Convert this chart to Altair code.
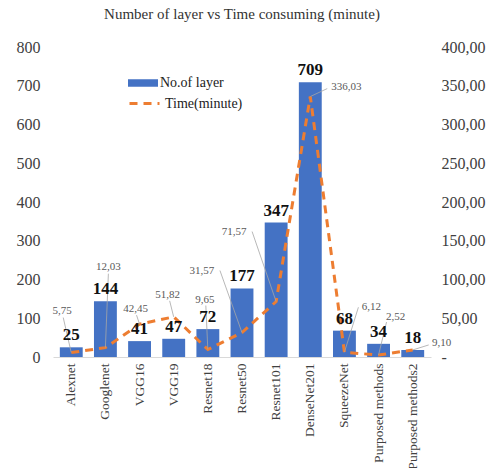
import altair as alt
import pandas as pd

models = ["Alexnet", "Googlenet", "VGG16", "VGG19", "Resnet18", "Resnet50",
          "Resnet101", "DenseNet201", "SqueezeNet", "Purposed methods", "Purposed methods2"]
layers = [25, 144, 41, 47, 72, 177, 347, 709, 68, 34, 18]
times = [5.75, 12.03, 42.45, 51.82, 9.65, 31.57, 71.57, 336.03, 6.12, 2.52, 9.10]

# annotation layout (pixel offsets of time labels and their leader lines)
label_dx = [-9, 3, -4, -6, -3, -40, -42, 36, 27, 17, 29]
label_dy = [-42, -81, -15, -22, -50, -62, -70, -10, -45, -38, -7]
lead_dx = [-8, 3, -3, -4, -2, -22, -24, 17, 14, 8, 16]
lead_dy = [-35, -74, -9, -16, -44, -62, -70, -8, -45, -33, -5]

FONT = "Liberation Serif"
BLUE = "#4472C4"
ORANGE = "#ED7D31"
PLOT_H = 310
HALF_BAND = 11.4
PX_TO_MIN = 400 / PLOT_H

df = pd.DataFrame({
    "model": models,
    "layers": layers,
    "time": times,
    "tlabel": [f"{t:.2f}".replace(".", ",") for t in times],
    "dx": label_dx,
    "dy": label_dy,
    "bar_series": ["No.of layer"] * len(models),
    "line_series": ["Time(minute)"] * len(models),
})

lead_rows = []
for i, m in enumerate(models):
    lead_rows.append({"model": m, "time": times[i], "ox": 0, "oy": 0, "k": i})
    lead_rows.append({"model": m, "time": times[i], "ox": lead_dx[i], "oy": lead_dy[i], "k": i})
lead_df = pd.DataFrame(lead_rows)

x_enc = alt.X("model:N", sort=models, title=None,
              scale=alt.Scale(paddingInner=0.33, paddingOuter=0.2),
              axis=alt.Axis(labelAngle=270, labelFont=FONT, labelFontSize=13.5,
                            labelColor="#404040", ticks=False, domainColor="#D9D9D9",
                            labelPadding=6, labelLimit=200))

y_left = alt.Y("layers:Q", title=None, scale=alt.Scale(domain=[0, 800]),
               axis=alt.Axis(values=list(range(0, 801, 100)), grid=False, ticks=False,
                             domain=False, labelFont=FONT, labelFontSize=16,
                             labelColor="#404040", labelPadding=13))

y_right_axis = alt.Axis(orient="right", values=list(range(0, 401, 50)), grid=False,
                        ticks=False, domain=False, labelFont=FONT, labelFontSize=16,
                        labelColor="#404040", labelPadding=10,
                        labelExpr="datum.value == 0 ? '-' : replace(format(datum.value, '.2f'), '.', ',')")
y_right = alt.Y("time:Q", title=None, scale=alt.Scale(domain=[0, 400]), axis=y_right_axis)
y_right_shift = alt.Y("ty:Q", title=None, scale=alt.Scale(domain=[0, 400]), axis=y_right_axis)

base = alt.Chart(df)

bars = base.mark_bar(color=BLUE).encode(
    x=x_enc, y=y_left,
    color=alt.Color("bar_series:N", scale=alt.Scale(range=[BLUE]),
                    legend=alt.Legend(title=None, orient="none", legendX=75, legendY=21,
                                      symbolType="M-1,-0.25H1V0.25H-1Z", symbolSize=900,
                                      symbolStrokeWidth=0, labelFont=FONT, labelFontSize=14,
                                      labelColor="#222", labelOffset=2)),
)

line = base.mark_line(strokeWidth=3, strokeDash=[8, 6]).encode(
    x=x_enc, y=y_right,
    color=alt.Color("line_series:N", scale=alt.Scale(range=[ORANGE]),
                    legend=alt.Legend(title=None, orient="none", legendX=75, legendY=40,
                                      symbolType="stroke", symbolSize=900,
                                      symbolStrokeWidth=3, symbolDash=[8, 6],
                                      labelFont=FONT, labelFontSize=14,
                                      labelColor="#222", labelOffset=4)),
)

leaders = alt.Chart(lead_df).transform_calculate(
    ty=f"datum.time - datum.oy * {PX_TO_MIN}",
    px=f"datum.ox + {HALF_BAND}",
).mark_line(color="#A6A6A6", strokeWidth=0.8).encode(
    x=x_enc, y=y_right_shift,
    xOffset=alt.XOffset("px:Q", scale=None),
    detail="k:N",
)

tlabels = base.transform_calculate(
    ty=f"datum.time - datum.dy * {PX_TO_MIN}",
    px=f"datum.dx + {HALF_BAND}",
).mark_text(font=FONT, fontSize=11, color="#595959").encode(
    x=x_enc, y=y_right_shift,
    xOffset=alt.XOffset("px:Q", scale=None),
    text="tlabel:N",
)

blabels = base.mark_text(font=FONT, fontSize=17, fontWeight="bold", color="#111",
                         baseline="bottom", dy=-3).encode(
    x=x_enc,
    y=alt.Y("layers:Q", scale=alt.Scale(domain=[0, 800]), axis=None),
    text="layers:Q",
)

chart = alt.layer(
    bars,
    alt.layer(line, leaders, tlabels),
    blabels,
).resolve_scale(y="independent", color="independent").properties(
    width=378, height=PLOT_H,
    title=alt.TitleParams("Number of layer vs Time consuming (minute)", font=FONT,
                          fontSize=15, fontWeight="normal", color="#333", offset=17),
    autosize=alt.AutoSizeParams(type="none"),
    padding={"left": 53, "top": 47, "right": 56, "bottom": 111},
).configure_view(stroke=None).configure_axis(labelFont=FONT).configure_axisLeft(
    labelFont=FONT, labelFontSize=16
).configure_axisRight(labelFont=FONT, labelFontSize=16)

chart.save("out.html", embed_options={"renderer": "svg", "actions": False})
